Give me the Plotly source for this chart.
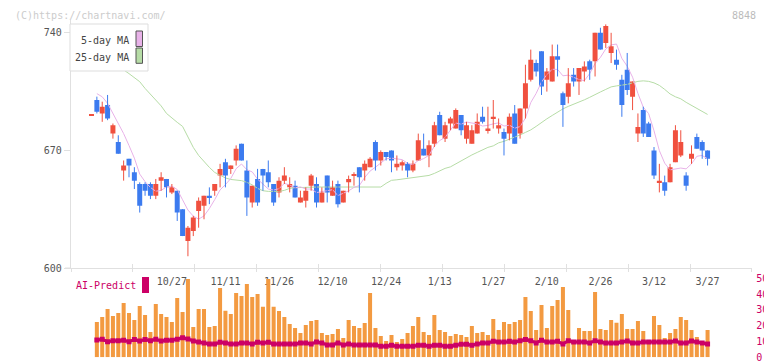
import plotly.graph_objects as go

# ---------------- data ----------------
date_ticks = ["10/27", "11/11", "11/26", "12/10", "12/24", "1/13", "1/27", "2/10", "2/26", "3/12", "3/27"]
date_tick_index = [15, 25, 35, 45, 55, 65, 75, 85, 95, 105, 115]

open_ = [691, 700, 692, 697, 680, 675, 658, 665, 657, 650,
         650, 650, 643, 652, 653, 645, 646, 635, 616, 622,
         634, 637, 643, 646, 655, 663, 659, 664, 674, 658,
         639, 653, 659, 657, 650, 645, 652, 648, 649, 639,
         640, 649, 650, 639, 655, 643, 650, 639, 651, 655,
         660, 658, 660, 675, 664, 669, 670, 660, 661, 662,
         658, 664, 671, 667, 674, 691, 677, 686, 683, 691,
         677, 674, 680, 690, 682, 689, 683, 681, 680, 692,
         680, 695, 712, 722, 729, 712, 711, 726, 704, 702,
         715, 711, 717, 723, 723, 740, 734, 728, 724, 712,
         718, 702, 680, 694, 686, 670, 651, 651, 651, 663,
         667, 655, 665, 678, 675, 670]
high = [691, 702, 699, 703, 686, 679, 664, 665, 660, 651,
        651, 651, 653, 657, 653, 650, 646, 635, 625, 631,
        642, 643, 648, 650, 662, 665, 661, 673, 674, 664,
        649, 659, 659, 664, 650, 654, 660, 654, 652, 646,
        648, 656, 654, 648, 655, 652, 652, 646, 655, 657,
        660, 664, 666, 676, 670, 669, 670, 667, 664, 663,
        664, 680, 680, 676, 687, 693, 687, 690, 695, 691,
        687, 685, 692, 696, 696, 700, 689, 683, 692, 697,
        695, 721, 730, 724, 729, 719, 733, 733, 705, 719,
        719, 719, 723, 724, 740, 743, 745, 740, 730, 715,
        728, 711, 692, 696, 687, 672, 662, 655, 662, 685,
        682, 657, 673, 680, 676, 670]
low = [691, 692, 687, 688, 677, 668, 652, 654, 647, 633,
       643, 641, 641, 646, 642, 644, 628, 619, 607, 619,
       624, 629, 638, 643, 648, 648, 656, 661, 664, 631,
       636, 637, 646, 648, 637, 642, 650, 645, 642, 639,
       636, 646, 636, 639, 639, 643, 636, 639, 645, 649,
       645, 652, 660, 658, 661, 664, 657, 658, 658, 654,
       657, 664, 667, 660, 672, 679, 675, 682, 683, 679,
       674, 674, 680, 686, 680, 683, 680, 667, 676, 674,
       677, 689, 711, 714, 703, 705, 711, 714, 684, 698,
       708, 703, 711, 712, 714, 730, 731, 722, 718, 690,
       703, 694, 675, 678, 678, 653, 645, 643, 651, 663,
       666, 646, 662, 671, 665, 661]
close = [691, 693, 696, 689, 685, 668, 661, 661, 652, 637,
         646, 643, 650, 654, 648, 648, 633, 619, 624, 630,
         640, 643, 642, 650, 659, 655, 661, 671, 664, 642,
         649, 639, 655, 651, 639, 652, 655, 650, 642, 642,
         646, 655, 639, 645, 645, 648, 638, 646, 653, 656,
         654, 662, 665, 664, 669, 666, 664, 662, 663, 658,
         662, 676, 667, 673, 685, 679, 685, 689, 694, 682,
         685, 682, 687, 687, 683, 690, 685, 677, 690, 674,
         695, 710, 724, 717, 708, 717, 726, 724, 697, 710,
         711, 719, 720, 718, 740, 730, 744, 732, 721, 697,
         706, 711, 684, 680, 678, 655, 652, 646, 660, 682,
         675, 649, 668, 671, 670, 665]

ma5 = [None, 703.8, 701.9, 698.0, 692.0, 686.4, 680.0, 672.9, 665.4, 655.9,
       651.4, 647.9, 645.7, 646.2, 648.3, 648.7, 646.7, 640.6, 634.5, 630.9,
       629.1, 631.0, 635.4, 640.7, 646.5, 649.6, 653.3, 659.1, 661.9, 658.5,
       657.2, 652.9, 649.7, 647.0, 646.4, 647.2, 650.4, 649.4, 647.7, 648.3,
       647.0, 647.0, 644.9, 645.4, 646.0, 646.6, 643.1, 644.4, 645.9, 648.0,
       649.1, 653.9, 657.7, 660.0, 662.6, 665.0, 665.4, 664.8, 664.5, 662.3,
       661.5, 664.0, 665.1, 667.1, 672.5, 675.9, 677.7, 682.1, 686.3, 685.6,
       686.9, 686.3, 685.8, 684.5, 684.9, 685.8, 686.4, 684.5, 685.0, 683.2,
       684.2, 689.2, 698.5, 703.9, 710.7, 715.1, 718.3, 718.2, 714.4, 714.8,
       713.6, 712.2, 711.5, 715.7, 721.7, 725.4, 730.4, 732.8, 733.3, 724.8,
       720.1, 713.6, 703.9, 695.7, 691.9, 681.7, 669.9, 662.4, 658.4, 659.1,
       659.5, 659.0, 662.0, 666.5, 667.0, 665.0]

ma25 = [730.7, 728.3, 726.0, 723.6, 721.2, 719.4, 717.9, 715.7, 713.2, 710.9,
        706.9, 703.4, 700.1, 696.5, 692.0, 689.1, 686.7, 684.3, 678.4, 671.8,
        667.0, 663.2, 659.9, 656.9, 655.1, 653.6, 652.7, 652.5, 652.0, 651.0,
        649.5, 647.4, 646.0, 645.6, 645.6, 645.6, 646.2, 647.4, 647.8, 648.0,
        648.2, 648.2, 648.2, 648.2, 648.2, 648.2, 648.2, 648.2, 648.2, 648.2,
        648.2, 648.2, 648.2, 648.2, 648.2, 650.4, 652.2, 652.5, 652.9, 653.2,
        653.5, 653.9, 654.5, 655.1, 656.3, 657.8, 659.3, 660.2, 662.0, 664.1,
        665.9, 667.3, 668.8, 670.3, 671.8, 672.7, 674.5, 675.4, 676.6, 677.8,
        679.2, 680.7, 682.2, 684.3, 686.7, 688.8, 690.8, 692.9, 694.7, 696.2,
        697.4, 698.6, 700.1, 701.6, 703.4, 704.8, 706.3, 707.8, 708.4, 708.7,
        709.3, 710.2, 711.1, 711.4, 711.1, 710.2, 708.7, 706.3, 703.6, 701.9,
        700.7, 698.6, 696.8, 695.3, 693.5, 691.4]

volume = [None, 22.3, 25.5, 30.6, 26.1, 28.0, 34.4, 28.0, 23.6, 32.5,
          26.8, 16.0, 33.7, 27.4, 25.5, 22.3, 37.5, 28.7, 49.6, 19.2,
          30.6, 30.6, 19.2, 19.8, 43.9, 29.5, 27.4, 40.7, 38.8, 46.4,
          38.2, 40.1, 31.9, 49.6, 31.9, 29.3, 25.5, 21.1, 18.5, 15.4,
          20.4, 23.0, 23.6, 15.4, 14.1, 14.7, 17.9, 12.2, 23.6, 19.8,
          18.5, 21.7, 40.7, 18.5, 13.5, 10.3, 14.1, 9.7, 11.6, 15.4,
          19.8, 25.5, 16.0, 14.1, 26.8, 17.3, 16.0, 13.5, 14.7, 14.1,
          12.9, 19.8, 15.4, 16.0, 14.1, 24.2, 17.3, 22.3, 21.1, 22.3,
          23.6, 38.2, 29.3, 17.3, 33.1, 18.5, 32.5, 36.3, 44.5, 29.9,
          10.3, 18.5, 16.6, 16.6, 41.3, 17.9, 17.3, 23.6, 21.9, 27.4,
          17.9, 17.9, 23.0, 16.6, 10.9, 26.1, 20.4, 12.2, 15.4, 17.9,
          25.5, 23.6, 17.3, 12.9, 10.3, 17.3]

ai_predict = [None, 10.95, 11.4, 9.9, 10.5, 10.5, 10.8, 9.9, 11.2, 10.3,
              11.2, 10.5, 11.4, 10.3, 10.8, 10.8, 11.4, 12.4, 11.6, 10.3,
              9.7, 9.1, 8.4, 8.4, 9.5, 9.1, 8.4, 8.4, 9.1, 9.1,
              8.4, 9.5, 9.1, 9.5, 8.4, 8.4, 8.4, 8.4, 8.4, 9.1,
              9.1, 8.4, 9.7, 9.1, 7.8, 7.8, 9.1, 7.8, 8.4, 7.8,
              7.8, 7.8, 7.8, 7.8, 7.0, 7.0, 7.6, 7.0, 7.0, 7.0,
              7.0, 7.6, 7.6, 7.0, 7.6, 7.6, 7.0, 7.0, 7.6, 8.2,
              8.2, 7.6, 8.4, 9.1, 9.1, 10.1, 9.7, 9.7, 10.1, 9.7,
              10.5, 11.2, 10.5, 9.1, 10.8, 9.7, 9.7, 10.1, 8.4, 10.5,
              9.7, 9.7, 9.7, 9.1, 10.5, 9.7, 9.1, 9.1, 9.1, 9.7,
              10.3, 9.1, 9.1, 9.7, 9.7, 9.7, 9.7, 9.7, 9.7, 10.3,
              9.1, 9.1, 10.3, 9.7, 9.1, 8.4]

# ---------------- styling / layout constants ----------------
# The page body has an 8px default margin, so the figure is drawn 8px in from
# the window corner; size and positions are expressed in window pixels.
OFF = 8
WIN_W, WIN_H = 772, 361
W, H = WIN_W - OFF, WIN_H - OFF
FONT = "DejaVu Sans Mono"
UP, DOWN = "#f0503f", "#3c7bef"
PINK, GREEN = "#e8b2e8", "#b6dca6"
ORANGE, MAGENTA = "#f39a41", "#cc0066"
AXIS = "#e0e0e0"

def fx(p):
    return (p - OFF) / W

def fy(p):
    return 1 - (p - OFF) / H

n = len(close)
xs = list(range(n))
XR = [-3.883, 123.35]
PX_PER_UNIT = 1.68
DOJI = 0.6  # minimum visible body height

up_i = [i for i in xs if close[i] >= open_[i]]
dn_i = [i for i in xs if close[i] < open_[i]]

def bodies(ids):
    base = [min(open_[i], close[i]) for i in ids]
    hgt = [max(abs(close[i] - open_[i]), DOJI) for i in ids]
    return base, hgt

def wicks(ids):
    wx, wy = [], []
    for i in ids:
        wx += [i, i, None]
        wy += [low[i], high[i], None]
    return wx, wy

fig = go.Figure()

fig.add_trace(go.Scatter(x=xs, y=ma25, mode="lines", line=dict(color=GREEN, width=1),
                         xaxis="x", yaxis="y"))
fig.add_trace(go.Scatter(x=xs, y=ma5, mode="lines", line=dict(color=PINK, width=1),
                         xaxis="x", yaxis="y"))

for ids, col in ((up_i, UP), (dn_i, DOWN)):
    wx, wy = wicks(ids)
    fig.add_trace(go.Scatter(x=wx, y=wy, mode="lines", line=dict(color=col, width=1),
                             xaxis="x", yaxis="y"))
    base, hgt = bodies(ids)
    fig.add_trace(go.Bar(x=ids, y=hgt, base=base, width=0.93, marker=dict(color=col, line=dict(width=0)),
                         xaxis="x", yaxis="y"))

# helper traces so the overlay axes (outside ticks, date labels) are drawn
fig.add_trace(go.Scatter(x=[None], y=[None], xaxis="x3", yaxis="y", mode="lines"))
fig.add_trace(go.Scatter(x=[None], y=[None], xaxis="x4", yaxis="y", mode="lines"))

fig.add_trace(go.Bar(x=xs, y=volume, width=0.75, marker=dict(color=ORANGE, line=dict(width=0)),
                     xaxis="x2", yaxis="y2"))
fig.add_trace(go.Scatter(x=xs, y=ai_predict, mode="lines+markers",
                         line=dict(color=MAGENTA, width=3),
                         marker=dict(color=MAGENTA, size=5, symbol="square"),
                         xaxis="x2", yaxis="y2"))

main_dom_x = [fx(70.7), fx(752.3)]
tick0 = (71 - 91.5) / 5.357
dtick = 61.9 / 5.357

fig.update_layout(
    width=W, height=H,
    margin=dict(l=0, r=0, t=0, b=0, autoexpand=False),
    paper_bgcolor="white", plot_bgcolor="white",
    showlegend=False, hovermode=False, barmode="overlay",
    font=dict(family=FONT, size=10, color="#555555"),
    xaxis=dict(domain=main_dom_x, range=XR, anchor="y", showline=True, linecolor=AXIS,
               ticks="inside", ticklen=4, tickcolor=AXIS, tickmode="linear", automargin=False,
               tick0=tick0, dtick=dtick, showticklabels=False, showgrid=False, zeroline=False),
    xaxis3=dict(overlaying="x", matches="x", anchor="y", range=XR, showline=False, automargin=False,
                ticks="outside", ticklen=3, tickcolor=AXIS, tickmode="linear",
                tick0=tick0, dtick=dtick, showticklabels=False, showgrid=False, zeroline=False),
    xaxis4=dict(overlaying="x", matches="x", anchor="y", side="bottom", range=XR, automargin=False,
                tickmode="array", tickvals=date_tick_index, ticktext=date_ticks,
                ticks="", ticklabelstandoff=6, ticklabeloverflow="allow",
                tickfont=dict(family=FONT, size=10, color="#555555"),
                showline=False, showgrid=False, zeroline=False),
    yaxis=dict(domain=[fy(268), fy(20)], range=[600, 600 + 248 / PX_PER_UNIT], anchor="x",
               showline=True, linecolor=AXIS, ticks="outside", ticklen=6, tickcolor=AXIS,
               tickmode="array", tickvals=[600, 670, 740], automargin=False,
               tickfont=dict(family=FONT, size=10, color="#555555"),
               showgrid=False, zeroline=False),
    xaxis2=dict(domain=main_dom_x, range=XR, anchor="y2", automargin=False,
                showticklabels=False, ticks="",
                showline=False, showgrid=False, zeroline=False),
    yaxis2=dict(domain=[fy(357.3), fy(275.1)], range=[0, 52], anchor="x2", side="right",
                tickmode="array", tickvals=[0, 10, 20, 30, 40, 50], ticks="", automargin=False,
                ticklabeloverflow="allow", ticklabelstandoff=3,
                tickfont=dict(family=FONT, size=10, color=MAGENTA),
                showline=False, showgrid=False, zeroline=False),
)

shapes = [
    dict(type="line", xref="paper", yref="paper", x0=fx(65), x1=fx(71), y0=fy(268), y1=fy(268),
         line=dict(color=AXIS, width=1)),
    dict(type="rect", xref="paper", yref="paper", x0=fx(70), x1=fx(148), y0=fy(71), y1=fy(24),
         fillcolor="white", line=dict(color="#dddddd", width=1), layer="above"),
    dict(type="rect", xref="paper", yref="paper", x0=fx(136), x1=fx(142.5), y0=fy(46.5), y1=fy(31),
         fillcolor=PINK, line=dict(color="#555555", width=1), layer="above"),
    dict(type="rect", xref="paper", yref="paper", x0=fx(136), x1=fx(142.5), y0=fy(63.3), y1=fy(48),
         fillcolor=GREEN, line=dict(color="#555555", width=1), layer="above"),
    dict(type="rect", xref="paper", yref="paper", x0=fx(142), x1=fx(149), y0=fy(293), y1=fy(277),
         fillcolor=MAGENTA, line=dict(width=0), layer="above"),
]
annotations = [
    dict(text="(C)https://chartnavi.com/", xref="paper", yref="paper", x=fx(13), y=fy(8.5),
         xanchor="left", yanchor="top", showarrow=False,
         font=dict(family=FONT, size=10, color="#cccccc")),
    dict(text="8848", xref="paper", yref="paper", x=fx(758), y=fy(8.5),
         xanchor="right", yanchor="top", showarrow=False,
         font=dict(family=FONT, size=10, color="#bbbbbb")),
    dict(text="5-day MA", xref="paper", yref="paper", x=fx(131), y=fy(41),
         xanchor="right", yanchor="middle", showarrow=False,
         font=dict(family=FONT, size=10, color="#444444")),
    dict(text="25-day MA", xref="paper", yref="paper", x=fx(131), y=fy(57.5),
         xanchor="right", yanchor="middle", showarrow=False,
         font=dict(family=FONT, size=10, color="#444444")),
    dict(text="AI-Predict", xref="paper", yref="paper", x=fx(74), y=fy(285),
         xanchor="left", yanchor="middle", showarrow=False,
         font=dict(family=FONT, size=10, color=MAGENTA)),
]
fig.update_layout(shapes=shapes, annotations=annotations)

fig.write_html("out.html")
